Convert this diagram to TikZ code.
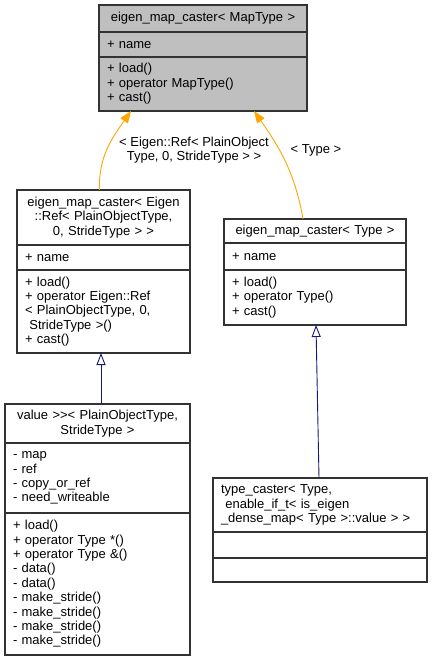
\documentclass[tikz,border=0pt]{standalone}
\usepackage{fontspec}
\setmainfont{Liberation Sans}
\usetikzlibrary{arrows.meta}
\definecolor{inherit}{HTML}{191970}
\definecolor{tmpl}{HTML}{FFA500}
\definecolor{cur}{HTML}{BFBFBF}
\begin{document}
\begin{tikzpicture}[x=1pt,y=1pt,
font=\fontsize{13}{14.4}\selectfont,
part/.style={draw=black!80,line width=1.1pt,rectangle,anchor=north west,inner xsep=8pt,inner ysep=0pt,outer sep=0pt,align=left},
head/.style={part,align=center},
derive/.style={draw=inherit,line width=0.9pt,-{Triangle[open,length=12pt,width=9pt]}},
bind/.style={draw=tmpl,line width=0.9pt,-{Triangle[length=12pt,width=9pt]}},
tlabel/.style={align=center,inner sep=0pt}]

\useasboundingbox (0,0) rectangle (432,-663);

% eigen_map_caster< MapType >
\draw (99,-5) node[head,fill=cur,minimum width=208pt,text width=192pt,minimum height=27pt] (maptitle) {eigen\_map\_caster< MapType >};
\draw (99,-32) node[part,fill=cur,minimum width=208pt,text width=192pt,minimum height=25pt] (mapattr) {+ name};
\draw (99,-57) node[part,fill=cur,minimum width=208pt,text width=192pt,minimum height=54pt] (mapops) {+ load()\\+ operator MapType()\\+ cast()};

% eigen_map_caster< Eigen::Ref<...> >
\draw (17,-190) node[head,minimum width=173pt,text width=157pt,minimum height=55pt] (eigtitle) {eigen\_map\_caster< Eigen\\::Ref< PlainObjectType,\\0, StrideType > >};
\draw (17,-245) node[part,minimum width=173pt,text width=157pt,minimum height=25pt] (eigattr) {+ name};
\draw (17,-270) node[part,minimum width=173pt,text width=157pt,minimum height=83pt] (eigops) {+ load()\\+ operator Eigen::Ref\\< PlainObjectType, 0,\\~StrideType >()\\+ cast()};

% eigen_map_caster< Type >
\draw (224,-219) node[head,minimum width=182pt,text width=166pt,minimum height=24pt] (typetitle) {eigen\_map\_caster< Type >};
\draw (224,-243) node[part,minimum width=182pt,text width=166pt,minimum height=27pt] (typeattr) {+ name};
\draw (224,-270) node[part,minimum width=182pt,text width=166pt,minimum height=55pt] (typeops) {+ load()\\+ operator Type()\\+ cast()};

% value >>< PlainObjectType, StrideType >
\draw (5,-404) node[head,minimum width=185pt,text width=169pt,minimum height=39pt] (valtitle) {value >{}>< PlainObjectType,\\StrideType >};
\draw (5,-443) node[part,minimum width=185pt,text width=169pt,minimum height=70pt] (valattr) {- map\\- ref\\- copy\_or\_ref\\- need\_writeable};
\draw (5,-513) node[part,minimum width=185pt,text width=169pt,minimum height=142pt] (valops) {+ load()\\+ operator Type *()\\+ operator Type \&()\\- data()\\- data()\\- make\_stride()\\- make\_stride()\\- make\_stride()\\- make\_stride()};

% type_caster< Type, enable_if_t<...> >
\draw (213,-478) node[part,minimum width=214pt,text width=198pt,minimum height=54pt] (dentitle) {type\_caster< Type,\\~enable\_if\_t< is\_eigen\\\_dense\_map< Type >::value > >};
\draw (213,-532) node[part,minimum width=214pt,text width=198pt,minimum height=26pt] (denattr) {};
\draw (213,-558) node[part,minimum width=214pt,text width=198pt,minimum height=24pt] (denops) {};

\node[tlabel] (reflabel) at (194,-150) {< Eigen::Ref< PlainObject\\Type, 0, StrideType > >};
\node[tlabel] (typelabel) at (316,-150) {< Type >};

\draw[bind] ([xshift=-4pt]eigtitle.north) to[out=92,in=235] ([xshift=-72pt]mapops.south);
\draw[bind] ([xshift=-12pt]typetitle.north) to[out=100,in=-55] ([xshift=51pt]mapops.south);
\draw[derive] ([xshift=3.5pt]valtitle.north) -- ([xshift=-2.5pt]eigops.south);
\draw[derive] ([xshift=-1pt]dentitle.north) -- ([xshift=1pt]typeops.south);
\end{tikzpicture}
\end{document}
